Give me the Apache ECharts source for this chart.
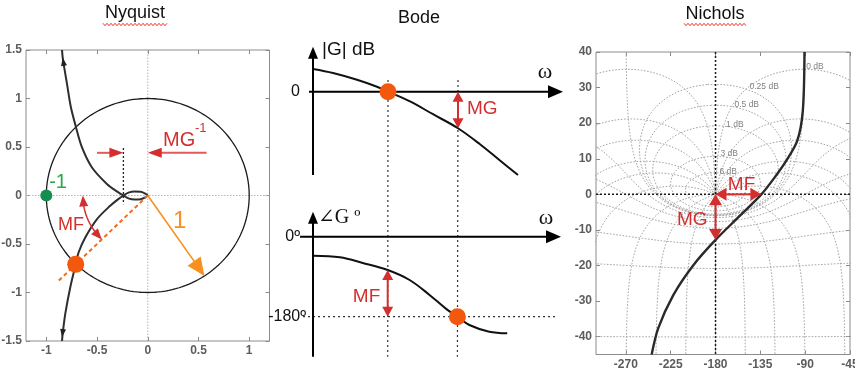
<!DOCTYPE html>
<html>
<head>
<meta charset="utf-8">
<title>Nyquist, Bode, Nichols</title>
<script src="https://cdn.jsdelivr.net/npm/echarts@6.0.0/dist/echarts.min.js"></script>
<style>
html, body { margin: 0; padding: 0; background: #fff; }
#chart { width: 855px; height: 371px; }
</style>
</head>
<body>
<div id="chart"></div>
<script>
// ---------- Nyquist locus: upper branch -> small loop round the origin -> lower branch
const nyquistRe = [-0.845, -0.838, -0.82, -0.796, -0.757, -0.71, -0.648, -0.55, -0.40, -0.30, -0.24,
  -0.19, -0.13, -0.07, -0.025, 0, -0.025, -0.07, -0.13, -0.19, -0.24,
  -0.30, -0.37, -0.5, -0.616, -0.682, -0.71, -0.764, -0.813, -0.838, -0.845];
const nyquistIm = [1.5, 1.42, 1.3, 1.15, 0.907, 0.715, 0.495, 0.289, 0.117, 0.04, 0,
  -0.03, -0.042, -0.038, -0.02, 0, 0.02, 0.038, 0.042, 0.03, 0,
  -0.045, -0.106, -0.243, -0.433, -0.588, -0.71, -0.948, -1.22, -1.42, -1.5];
const nyquistCrossRe = -0.24;            // real-axis crossing = 1/MG
const phaseMarginPoint = [-0.71, -0.71]; // locus meets the unit circle
const nyquistPmDeg = 45;
const unitArrowDeg = -56;                // direction of the radius-1 arrow

// ---------- Bode (sketch units on the frequency axis)
const bodeOmega = [0, 2, 4.4, 6.4, 7.5, 9.7, 12, 14.5, 16.7, 18.7, 20.5];
const bodeGainDb = [9.1, 7.5, 4.8, 2.0, 0, -3.9, -9.0, -14.6, -21.0, -27.5, -33.3];
const bodePhaseOmega = [0, 2.7, 5.0, 7.5, 9.7, 11.7, 13.4, 14.5, 15.7, 17.7, 19.5];
const bodePhaseDeg = [-43, -46.4, -59, -75, -97.4, -131, -163, -180, -198.7, -213.8, -217.4];
const omegaCross = 7.5;       // |G| = 0 dB
const omega180 = 14.5;        // arg G = -180
const bodeGainAt180 = -14.6;
const bodePhaseAtCross = -75;

// ---------- Nichols
const nicholsPhase = [-244.1, -237.5, -222.4, -202.3, -180, -157, -134, -120.8, -109.1, -98, -92.4, -90.7];
const nicholsGainDb = [-45, -37.6, -28.3, -19.9, -12.8, -6.4, 0, 4.7, 9.4, 15, 23.4, 40];
const nicholsGainMargin = -12.8;
const nicholsPhaseAtCross = -134;
const nicholsMdB = [6, 3, 1, 0.5, 0.25, 0, -1, -3, -6, -12, -20, -40];
const nicholsPsiDeg = [-1, -5, -10, -20, -30, -50, -90, -120, -150, -180];
const nicholsLabelled = [0, 0.25, 0.5, 1, 3, 6];

// ---------- tick labels
const nyquistTicksX = [-1, -0.5, 0, 0.5, 1];
const nyquistTicksY = [-1.5, -1, -0.5, 0, 0.5, 1, 1.5];
const nicholsTicksX = [-270, -225, -180, -135, -90, -45];
const nicholsTicksY = [-40, -30, -20, -10, 0, 10, 20, 30, 40];

// ---------- styling
const RED = '#d42f2f', RED_LINE = '#e05a5a';
const ORANGE_DOT = '#f2590f', ORANGE = '#f7901e', ORANGE_RAY = '#f26a1b';
const SANS = '"Liberation Sans", Arial, Helvetica, sans-serif';
const SERIF = '"Liberation Serif", "Times New Roman", "DejaVu Serif", serif';

const chart = echarts.init(document.getElementById('chart'));

// ---------- element helpers (pixel space)
function seg(a, b, stroke, width, dash) {
  return { type: 'line', shape: { x1: a[0], y1: a[1], x2: b[0], y2: b[1] },
    style: { stroke: stroke, lineWidth: width, lineDash: dash || null } };
}
function head(tip, from, len, wid, color) {
  const dx = tip[0] - from[0], dy = tip[1] - from[1], d = Math.hypot(dx, dy) || 1;
  const ux = dx / d, uy = dy / d;
  const bx = tip[0] - ux * len, by = tip[1] - uy * len;
  return { type: 'polygon', shape: { points: [tip, [bx - uy * wid / 2, by + ux * wid / 2], [bx + uy * wid / 2, by - ux * wid / 2]] },
    style: { fill: color } };
}
function arrow(p1, p2, o) {
  const dx = p2[0] - p1[0], dy = p2[1] - p1[1], d = Math.hypot(dx, dy) || 1;
  const ux = dx / d, uy = dy / d, k = o.len * 0.7;
  const a = o.start ? [p1[0] + ux * k, p1[1] + uy * k] : p1;
  const b = o.end ? [p2[0] - ux * k, p2[1] - uy * k] : p2;
  const out = [seg(a, b, o.lineColor || o.color, o.width)];
  if (o.end) out.push(head(p2, p1, o.len, o.wid, o.color));
  if (o.start) out.push(head(p1, p2, o.len, o.wid, o.color));
  return out;
}
function txt(p, s, o) {
  const align = o.align || 'left', va = o.va || 'middle';
  return { type: 'text', x: p[0] + (o.dx || 0), y: p[1] + (o.dy || 0),
    style: { text: s, fill: o.color || '#111', font: (o.weight || 'normal') + ' ' + o.size + 'px ' + (o.family || SANS),
      align: align, textAlign: align, verticalAlign: va, textVerticalAlign: va } };
}
function dot(p, r, color) {
  return { type: 'circle', shape: { cx: p[0], cy: p[1], r: r }, style: { fill: color } };
}
function overlay(xi, yi, anchor, z, draw) {
  return { type: 'custom', xAxisIndex: xi, yAxisIndex: yi, data: [anchor], silent: true, z: z, clip: false,
    renderItem: function (params, api) { return { type: 'group', children: draw(api) }; } };
}

// ---------- framed axes with inward ticks on all four sides
function frameAxis(gridIndex, min, max, ticks, position, labels) {
  return { type: 'value', gridIndex: gridIndex, min: min, max: max, position: position,
    axisLine: { show: false, onZero: false },
    axisTick: { show: true, inside: true, length: 4, customValues: ticks, lineStyle: { color: '#8a8a8a', width: 1 } },
    axisLabel: { show: labels, customValues: ticks, color: '#5c5c5c', fontSize: 12, fontWeight: 'bold', fontFamily: SANS, margin: 4,
      formatter: function (v) { return String(v); } },
    splitLine: { show: false } };
}
function hiddenAxis(gridIndex, min, max) {
  return { type: 'value', gridIndex: gridIndex, min: min, max: max, show: false, splitLine: { show: false } };
}

// ---------- Nichols chart grid: closed-loop gain (M) and phase contours
function openLoop(tr, ti) {           // G = T / (1 - T)
  const den = (1 - tr) * (1 - tr) + ti * ti;
  const gr = (tr - tr * tr - ti * ti) / den, gi = ti / den;
  let ph = Math.atan2(gi, gr) * 180 / Math.PI;
  if (ph > 0) ph -= 360;
  return [ph, 10 * Math.log10(gr * gr + gi * gi)];
}
function mContour(mdb) {
  const M = Math.pow(10, mdb / 20), pts = [], N = 1440;
  for (let i = 1; i < N; i++) {
    const a = 2 * Math.PI * i / N;
    pts.push(openLoop(M * Math.cos(a), M * Math.sin(a)));
  }
  if (M > 1) pts.push(pts[0]);
  return pts;
}
function psiContour(psi, mirror) {
  const r = psi * Math.PI / 180, pts = [], N = 5000;
  for (let k = 0; k <= N; k++) {
    const m = Math.pow(10, -2.6 + 5.2 * k / N);
    const p = openLoop(m * Math.cos(r), m * Math.sin(r));
    if (psi <= -180) p[0] = -180;
    pts.push(mirror ? [-360 - p[0], p[1]] : p);
  }
  return pts;
}
const gridStyle = { color: '#a2a2a2', width: 1, type: [1.6, 1.6] };
const nicholsGridSeries = [];
nicholsMdB.forEach(function (m) {
  nicholsGridSeries.push({ type: 'line', xAxisIndex: 4, yAxisIndex: 4, data: mContour(m), showSymbol: false, symbol: 'none',
    silent: true, z: 1, lineStyle: gridStyle, clip: true });
});
nicholsPsiDeg.forEach(function (p) {
  [false, true].forEach(function (mir) {
    nicholsGridSeries.push({ type: 'line', xAxisIndex: 4, yAxisIndex: 4, data: psiContour(p, mir), showSymbol: false, symbol: 'none',
      silent: true, z: 1, lineStyle: gridStyle, clip: true });
  });
});

// ---------- Nyquist overlays
const nyquistBack = overlay(0, 0, [0, 0], 1, function (api) {
  const c = function (p) { return api.coord(p); };
  const ring = [];
  for (let t = 0; t <= 360; t += 2) ring.push(c([Math.cos(t * Math.PI / 180), Math.sin(t * Math.PI / 180)]));
  return [
    seg(c([0, -1.5]), c([0, 1.5]), '#b4b4b4', 1, [1.5, 1.5]),
    seg(c([-1.2, 0]), c([1.2, 0]), '#b4b4b4', 1, [1.5, 1.5]),
    { type: 'polyline', shape: { points: ring }, style: { stroke: '#1a1a1a', lineWidth: 1.3, fill: 'none' } }
  ];
});

const nyquistFront = overlay(0, 0, [0, 0], 10, function (api) {
  const c = function (p) { return api.coord(p); };
  const out = [];
  // 1/MG marker on the real axis
  out.push(seg(c([nyquistCrossRe, 0.49]), c([nyquistCrossRe, -0.09]), '#222', 1.3, [2, 2]));
  out.push.apply(out, arrow(c([-0.5, 0.44]), c([nyquistCrossRe, 0.44]), { color: RED, lineColor: RED_LINE, width: 2, len: 14, wid: 10, end: true }));
  out.push.apply(out, arrow(c([0.58, 0.44]), c([0, 0.44]), { color: RED, lineColor: RED_LINE, width: 2, len: 14, wid: 10, end: true }));
  out.push(txt(c([0.15, 0.57]), 'MG', { size: 20, color: RED }));
  out.push(txt(c([0.466, 0.69]), '-1', { size: 13, color: RED }));
  // phase-margin ray and the unit-radius arrow
  const k = 1.26;
  out.push(seg(c([0, 0]), c([phaseMarginPoint[0] * k, phaseMarginPoint[1] * k]), ORANGE_RAY, 2, [4, 3]));
  const ua = unitArrowDeg * Math.PI / 180;
  out.push.apply(out, arrow(c([0, 0]), c([Math.cos(ua), Math.sin(ua)]), { color: ORANGE, width: 1.6, len: 18, wid: 16, end: true }));
  out.push(txt(c([0.25, -0.268]), '1', { size: 24, color: ORANGE }));
  // phase-margin arc
  const arc = [];
  for (let a = 180; a <= 180 + nyquistPmDeg + 0.01; a += 3) arc.push(c([0.64 * Math.cos(a * Math.PI / 180), 0.64 * Math.sin(a * Math.PI / 180)]));
  out.push({ type: 'polyline', shape: { points: arc.slice(2, arc.length - 2) }, style: { stroke: RED, lineWidth: 1.5, fill: 'none' } });
  out.push(head(arc[0], arc[3], 11, 9, RED));
  out.push(head(arc[arc.length - 1], arc[arc.length - 4], 11, 9, RED));
  out.push(txt(c([-0.884, -0.304]), 'MF', { size: 18, color: RED }));
  // direction arrows at both ends of the locus
  out.push(head(c([nyquistRe[1], nyquistIm[1]]), c([nyquistRe[3], nyquistIm[3]]), 8, 6, '#222'));
  const n = nyquistRe.length;
  out.push(head(c([nyquistRe[n - 1], nyquistIm[n - 1] + 0.04]), c([nyquistRe[n - 3], nyquistIm[n - 3]]), 8, 6, '#222'));
  // critical point and phase-margin point
  out.push(dot(c([-1, 0]), 6, '#178c50'));
  out.push(txt(c([-0.972, 0.139]), '-1', { size: 20, color: '#2aa84a' }));
  out.push(dot(c(phaseMarginPoint), 8.5, ORANGE_DOT));
  return out;
});

// ---------- Bode overlays
const bodeGainFront = overlay(2, 2, [1, 0], 10, function (api) {
  const c = function (p) { return api.coord(p); };
  const out = [];
  out.push.apply(out, arrow(c([0, -33.3]), c([0, 18]), { color: '#000', width: 2, len: 12, wid: 10, end: true }));
  out.push.apply(out, arrow(c([-0.4, 0]), c([25, 0]), { color: '#000', width: 2, len: 15, wid: 13, end: true }));
  out.push.apply(out, arrow(c([omega180, 0]), c([omega180, bodeGainAt180]), { color: RED, width: 2, len: 10, wid: 11, start: true, end: true }));
  out.push(txt(c([0.9, 16.7]), '|G| dB', { size: 19 }));
  out.push(txt(c([-1.3, 0]), '0', { size: 16, align: 'right' }));
  out.push(txt(c([23.2, 7.9]), 'ω', { size: 22, family: SERIF, align: 'center' }));
  out.push(txt(c([15.4, -6.9]), 'MG', { size: 19, color: RED }));
  out.push(dot(c([omegaCross, 0]), 8.5, ORANGE_DOT));
  return out;
});
const bodePhaseFront = overlay(3, 3, [1, 0], 10, function (api) {
  const c = function (p) { return api.coord(p); };
  const out = [];
  out.push(seg(c([-1.0, -180]), c([24.5, -180]), '#333', 1.2, [2, 3]));
  out.push.apply(out, arrow(c([0, -270]), c([0, 56.25]), { color: '#000', width: 2, len: 12, wid: 10, end: true }));
  out.push.apply(out, arrow(c([-1.3, 0]), c([24.9, 0]), { color: '#000', width: 2, len: 15, wid: 13, end: true }));
  out.push.apply(out, arrow(c([omegaCross, bodePhaseAtCross]), c([omegaCross, -180]), { color: RED, width: 2, len: 10, wid: 11, start: true, end: true }));
  out.push(txt(c([0.5, 42]), '∠G º', { size: 20, family: SERIF }));
  out.push(txt(c([-1.3, 0]), '0º', { size: 16, align: 'right' }));
  out.push(txt(c([-0.7, -180]), '-180º', { size: 16, align: 'right' }));
  out.push(txt(c([23.4, 42]), 'ω', { size: 22, family: SERIF, align: 'center' }));
  out.push(txt(c([4.0, -135]), 'MF', { size: 19, color: RED }));
  out.push(dot(c([omega180, -180]), 8.5, ORANGE_DOT));
  return out;
});

// ---------- Nichols overlays
const nicholsLabelAt = { 0: [-89, 35.8], 0.25: [-145.9, 30.3], 0.5: [-161, 25.3], 1: [-169.4, 19.7], 3: [-175, 11.4], 6: [-176, 6.5] };
const nicholsBack = overlay(4, 4, [-180, 0], 2, function (api) {
  const c = function (p) { return api.coord(p); };
  const out = [];
  nicholsLabelled.forEach(function (m) {
    out.push(txt(c(nicholsLabelAt[m]), m + ' dB', { size: 8.5, color: '#808080' }));
  });
  out.push(seg(c([-180, 40]), c([-180, -45]), '#1a1a1a', 1.5, [2, 2]));
  out.push(seg(c([-300, 0]), c([-45, 0]), '#1a1a1a', 1.5, [2, 2]));
  return out;
});
const nicholsFront = overlay(4, 4, [-180, 0], 10, function (api) {
  const c = function (p) { return api.coord(p); };
  const out = [];
  out.push.apply(out, arrow(c([-180, 0]), c([-180, nicholsGainMargin]), { color: RED, width: 2, len: 11, wid: 13, start: true, end: true }));
  out.push.apply(out, arrow(c([-180, 0]), c([nicholsPhaseAtCross, 0]), { color: RED, width: 2, len: 11, wid: 13, start: true, end: true }));
  out.push(txt(c([-218.7, -7.1]), 'MG', { size: 19, color: RED }));
  out.push(txt(c([-153.9, 2.6]), 'MF', { size: 19, color: RED, align: 'center' }));
  return out;
});

const option = {
  animation: false,
  grid: [
    { left: 26, top: 50, width: 243.5, height: 291, show: true, borderColor: '#8c8c8c', borderWidth: 1, backgroundColor: 'transparent', containLabel: false, outerBoundsMode: 'none' },
    { left: 313, top: 46.7, width: 250, height: 128.3, show: false, containLabel: false, outerBoundsMode: 'none' },
    { left: 313, top: 211.7, width: 249, height: 145, show: false, containLabel: false, outerBoundsMode: 'none' },
    { left: 596, top: 52, width: 254, height: 302.5, show: true, borderColor: '#8c8c8c', borderWidth: 1, backgroundColor: 'transparent', containLabel: false, outerBoundsMode: 'none' }
  ],
  xAxis: [
    frameAxis(0, -1.2, 1.2, nyquistTicksX, 'bottom', true),
    frameAxis(0, -1.2, 1.2, nyquistTicksX, 'top', false),
    hiddenAxis(1, 0, 25),
    hiddenAxis(2, 0, 25),
    frameAxis(3, -300, -45, nicholsTicksX, 'bottom', true),
    frameAxis(3, -300, -45, nicholsTicksX, 'top', false)
  ],
  yAxis: [
    frameAxis(0, -1.5, 1.5, nyquistTicksY, 'left', true),
    frameAxis(0, -1.5, 1.5, nyquistTicksY, 'right', false),
    hiddenAxis(1, -33.3, 18),
    hiddenAxis(2, -270, 56.25),
    frameAxis(3, -45, 40, nicholsTicksY, 'left', true),
    frameAxis(3, -45, 40, nicholsTicksY, 'right', false)
  ],
  series: [
    nyquistBack,
    { type: 'line', xAxisIndex: 0, yAxisIndex: 0, z: 5, silent: true, symbol: 'none', smooth: 0.3,
      data: nyquistRe.map(function (x, i) { return [x, nyquistIm[i]]; }),
      lineStyle: { color: '#2e2e2e', width: 2 } },
    nyquistFront,
    { type: 'line', xAxisIndex: 2, yAxisIndex: 2, z: 5, silent: true, symbol: 'none', smooth: 0.35,
      data: bodeOmega.map(function (w, i) { return [w, bodeGainDb[i]]; }),
      lineStyle: { color: '#111', width: 2 } },
    bodeGainFront,
    { type: 'line', xAxisIndex: 3, yAxisIndex: 3, z: 5, silent: true, symbol: 'none', smooth: 0.35,
      data: bodePhaseOmega.map(function (w, i) { return [w, bodePhaseDeg[i]]; }),
      lineStyle: { color: '#111', width: 2 } },
    bodePhaseFront
  ].concat(nicholsGridSeries).concat([
    nicholsBack,
    { type: 'line', xAxisIndex: 4, yAxisIndex: 4, z: 6, silent: true, symbol: 'none', smooth: 0.3,
      data: nicholsPhase.map(function (p, i) { return [p, nicholsGainDb[i]]; }),
      lineStyle: { color: '#2a2a2a', width: 2.4 } },
    nicholsFront
  ])
};
chart.setOption(option);

// ---------- titles, wavy spell-check underline and the frequency guides across both Bode plots
function wave(x0, x1, y) {
  const pts = []; let up = true;
  for (let x = x0; x <= x1; x += 2) { pts.push([x, y + (up ? -1.2 : 1.2)]); up = !up; }
  return pts;
}
function title(x, y, s) {
  return { type: 'text', x: x, y: y, style: { text: s, fill: '#111', font: '18px ' + SANS, align: 'center', textAlign: 'center', verticalAlign: 'top', textVerticalAlign: 'top' } };
}
const guides = [omegaCross, omega180].map(function (w) {
  const a = chart.convertToPixel({ gridIndex: 1 }, [w, 4.7]);
  const b = chart.convertToPixel({ gridIndex: 2 }, [w, -270]);
  return { type: 'line', z: 0, shape: { x1: a[0], y1: a[1], x2: b[0], y2: b[1] }, style: { stroke: '#333', lineWidth: 1.2, lineDash: [2, 3] } };
});
chart.setOption({
  graphic: [
    title(135, 4, 'Nyquist'),
    title(419, 9, 'Bode'),
    title(715, 5, 'Nichols'),
    { type: 'polyline', shape: { points: wave(103, 167, 24.5) }, style: { stroke: '#e8342a', lineWidth: 1, fill: 'none' } },
    { type: 'polyline', shape: { points: wave(684, 746, 24.5) }, style: { stroke: '#e8342a', lineWidth: 1, fill: 'none' } }
  ].concat(guides)
});
</script>
</body>
</html>
